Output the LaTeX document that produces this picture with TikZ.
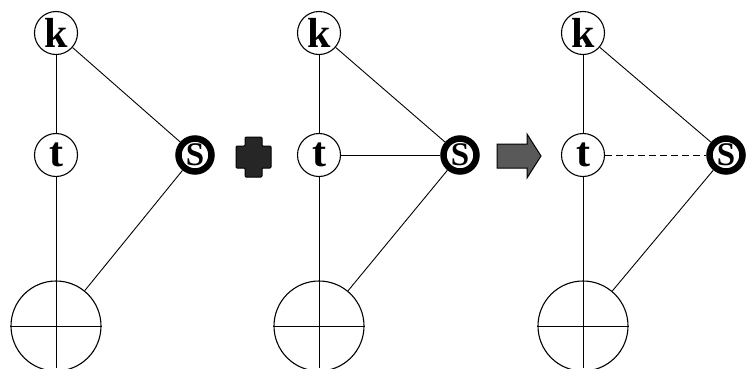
\documentclass[tikz,border=0pt]{standalone}
\usepackage{fontspec}
\newfontfamily\labelfont{Liberation Serif}
\begin{document}
\begin{tikzpicture}[x=1pt,y=-1pt,
  vtx/.style={circle,draw,line width=1.1pt,minimum size=43pt,inner sep=0pt,
    font=\labelfont\bfseries\fontsize{42}{42}\selectfont},
  src/.style={circle,draw,line width=6.5pt,fill=white,minimum size=33pt,inner sep=0pt,
    font=\labelfont\bfseries\fontsize{33}{33}\selectfont},
  big/.style={circle,draw,line width=1.1pt,minimum size=90pt,inner sep=0pt},
  edge/.style={line width=0.9pt},
  symb/.style={draw=black,line width=1pt}]
\useasboundingbox (0,0) rectangle (749,368);

% three copies of the graph
\foreach \i/\kx/\sx in {1/56/195, 2/319/460, 3/583/726}{
  \node[vtx] (k\i) at (\kx,33) {k};
  \node[vtx] (t\i) at (\kx,155) {t};
  \node[src] (s\i) at (\sx,155) {S};
  \node[big] (c\i) at (\kx,326) {};
  \coordinate (b\i) at (\kx,368);
  \draw[edge] (k\i) -- (t\i);
  \draw[edge] (k\i) -- (s\i);
  \draw[edge] (t\i) -- (b\i);
  \draw[edge] (s\i) -- (c\i);
  \draw[edge] (c\i.west) -- (c\i.east);
}

% edge t--s: added in the middle, tentative on the right
\draw[edge] (t2) -- (s2);
\draw[edge,dash pattern=on 7pt off 4pt] (t3) -- (s3);

% plus sign between first and second graph
\draw[symb,fill=black!85,rounded corners=1pt]
  (245,137) -- (262,137) -- (262,146) -- (271,146) -- (271,168) -- (262,168)
  -- (262,177) -- (245,177) -- (245,168) -- (236,168) -- (236,146) -- (245,146) -- cycle;

% block arrow between second and third graph
\draw[symb,fill=black!65]
  (497,144) -- (527,144) -- (527,134) -- (541,156) -- (527,178) -- (527,168)
  -- (497,168) -- cycle;
\end{tikzpicture}
\end{document}
